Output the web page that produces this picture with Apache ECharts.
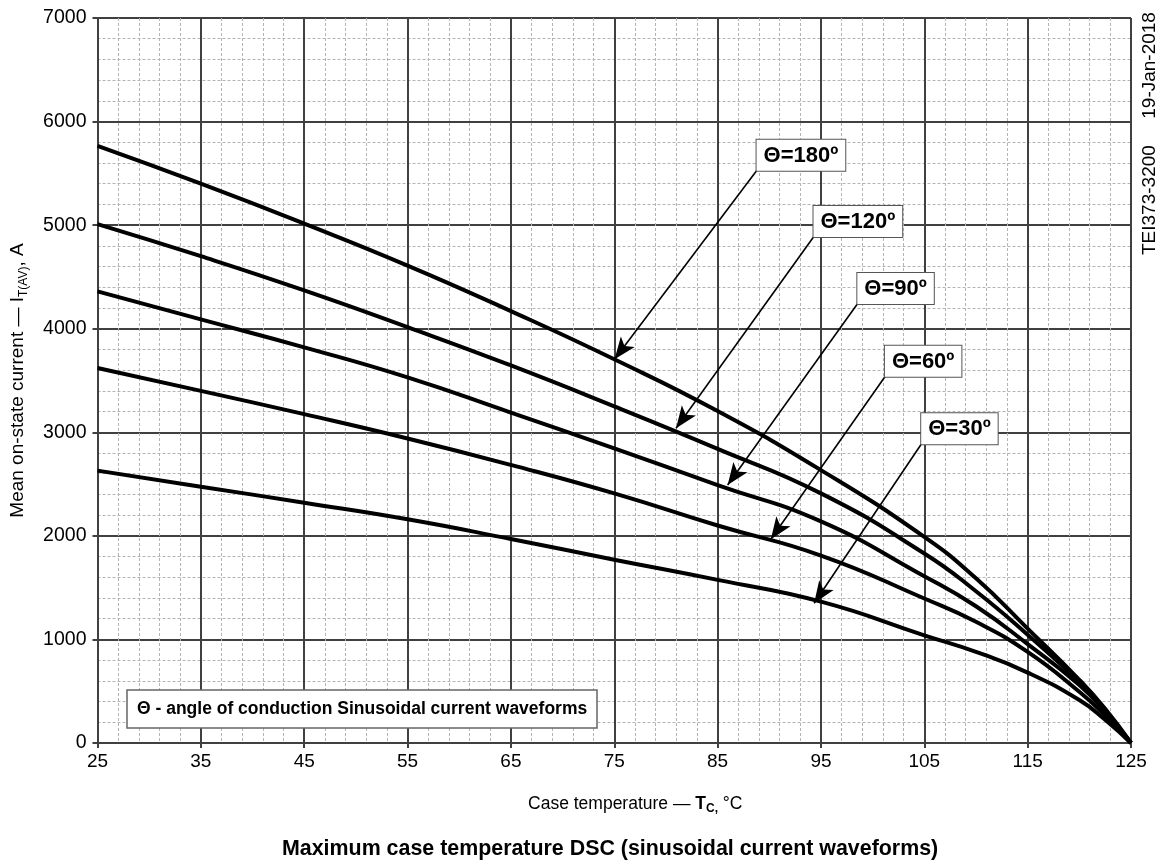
<!DOCTYPE html>
<html>
<head>
<meta charset="utf-8">
<script src="https://cdn.jsdelivr.net/npm/echarts@6/dist/echarts.min.js"></script>
<style>
html,body{margin:0;padding:0;background:#fff;}
#chart{width:1160px;height:865px;}
</style>
</head>
<body>
<div id="chart"></div>
<script>
// Case temperature, °C
var temps = [25, 35, 45, 55, 65, 75, 85, 95, 105, 110, 115, 120, 122.5, 125];
// Mean on-state current, A, per conduction angle
var cur180 = [5765, 5400, 5015, 4610, 4170, 3705, 3205, 2635, 1990, 1590, 1105, 610, 330, 0];
var cur120 = [5010, 4700, 4370, 4015, 3645, 3250, 2840, 2410, 1830, 1465, 1045, 590, 315, 0];
var cur90  = [4360, 4090, 3820, 3530, 3190, 2845, 2490, 2140, 1610, 1320, 955, 560, 300, 0];
var cur60  = [3620, 3400, 3175, 2940, 2685, 2410, 2100, 1810, 1395, 1170, 880, 495, 265, 0];
var cur30  = [2630, 2475, 2320, 2160, 1970, 1770, 1575, 1365, 1040, 880, 680, 415, 225, 0];

var seriesNames = ['Θ=180º', 'Θ=120º', 'Θ=90º', 'Θ=60º', 'Θ=30º'];
// annotation: label box bottom-left corner [T, I] and arrow tip [T, I]
var labelAnchors = [[88.77, 5526], [94.28, 4886], [98.52, 4239], [101.19, 3537], [104.70, 2884]];
var arrowTips = [[75.03, 3705], [80.98, 3039], [85.97, 2491], [90.15, 1967], [94.34, 1349]];

var xTicks = [25, 35, 45, 55, 65, 75, 85, 95, 105, 115, 125];
var yTicks = [0, 1000, 2000, 3000, 4000, 5000, 6000, 7000];

var curves = [cur180, cur120, cur90, cur60, cur30];
var FONT = '"Liberation Sans", Arial, sans-serif';

function pairs(xs, ys) { return xs.map(function (x, i) { return [x, ys[i]]; }); }

var series = curves.map(function (c, i) {
  return {
    name: seriesNames[i],
    type: 'line',
    data: pairs(temps, c),
    smooth: 0.5,
    symbol: 'none',
    lineStyle: { color: '#000', width: 4 },
    z: 5,
    markLine: {
      silent: true,
      symbol: ['none', 'arrow'],
      symbolSize: [13, 22],
      lineStyle: { color: '#000', width: 1.6, type: 'solid' },
      label: { show: false },
      animation: false,
      data: [[{ coord: labelAnchors[i] }, { coord: arrowTips[i] }]]
    },
    markPoint: {
      silent: true,
      symbol: 'rect',
      symbolSize: 0,
      animation: false,
      label: {
        show: true,
        position: 'insideBottomLeft',
        distance: 0,
        formatter: seriesNames[i],
        fontFamily: FONT,
        fontWeight: 'bold',
        fontSize: 22,
        color: '#000',
        backgroundColor: '#fff',
        borderColor: '#555',
        borderWidth: 1,
        padding: [5, 7, 4, 7]
      },
      data: [{ coord: labelAnchors[i] }]
    }
  };
});

var chart = echarts.init(document.getElementById('chart'), null, { renderer: 'canvas' });
chart.setOption({
  animation: false,
  backgroundColor: '#fff',
  grid: { left: 95, right: 29, top: 18, bottom: 122, containLabel: false },
  title: [{
    text: 'Θ - angle of conduction Sinusoidal current waveforms',
    left: 127, top: 690,
    backgroundColor: '#fff', borderColor: '#666', borderWidth: 1.5,
    padding: [10, 10, 10, 10],
    textStyle: { fontFamily: FONT, fontWeight: 'bold', fontSize: 17.5, color: '#000' }
  }, {
    text: 'Maximum case temperature DSC (sinusoidal current waveforms)',
    left: 282, top: 839, padding: 0,
    textStyle: { fontFamily: FONT, fontWeight: 'bold', fontSize: 21.4, color: '#000' }
  }],
  xAxis: {
    type: 'value', min: 25, max: 125, interval: 10,
    name: '{a|Case temperature — }{b|T}{s|C,}{a| °C}',
    nameLocation: 'middle', nameGap: 50,
    nameTextStyle: {
      padding: [0, 0, 0, 42],
      rich: {
        a: { fontFamily: FONT, fontSize: 17.5, color: '#000', lineHeight: 22, verticalAlign: 'middle' },
        b: { fontFamily: FONT, fontSize: 17.5, fontWeight: 'bold', color: '#000', lineHeight: 22, verticalAlign: 'middle' },
        s: { fontFamily: FONT, fontSize: 12, fontWeight: 'bold', color: '#000', lineHeight: 10, verticalAlign: 'bottom' }
      }
    },
    axisLine: { show: true, lineStyle: { color: '#404040', width: 2 } },
    axisTick: { show: true, length: 5, lineStyle: { color: '#404040', width: 2 } },
    minorTick: { show: true, splitNumber: 5, length: 0 },
    axisLabel: {
      fontFamily: FONT, fontSize: 19, color: '#000', margin: 9,
      customValues: xTicks,
      formatter: function (v) { return String(v); }
    },
    splitLine: { show: true, lineStyle: { color: '#404040', width: 2 } },
    minorSplitLine: { show: true, lineStyle: { color: '#b4b4b4', width: 1, type: [3, 2] } }
  },
  yAxis: {
    type: 'value', min: 0, max: 7000, interval: 1000,
    name: '{a|Mean on-state current — I}{s|T(AV)}{a|, A}',
    nameLocation: 'middle', nameGap: 68, nameRotate: 90,
    nameTextStyle: {
      rich: {
        a: { fontFamily: FONT, fontSize: 19, color: '#000', lineHeight: 24, verticalAlign: 'middle' },
        s: { fontFamily: FONT, fontSize: 12, color: '#000', lineHeight: 12, verticalAlign: 'bottom' }
      }
    },
    axisLine: { show: true, lineStyle: { color: '#404040', width: 2 } },
    axisTick: { show: true, length: 5, lineStyle: { color: '#404040', width: 2 } },
    minorTick: { show: true, splitNumber: 5, length: 0 },
    axisLabel: {
      fontFamily: FONT, fontSize: 19.5, color: '#000', margin: 11,
      customValues: yTicks,
      formatter: function (v) { return String(v); }
    },
    splitLine: { show: true, lineStyle: { color: '#404040', width: 2 } },
    minorSplitLine: { show: true, lineStyle: { color: '#b4b4b4', width: 1, type: [3, 2] } }
  },
  graphic: [{
    type: 'text',
    x: 1150, y: 255,
    rotation: Math.PI / 2,
    style: {
      text: 'TEI373-3200     19-Jan-2018',
      fontFamily: FONT, fontSize: 19, fill: '#000',
      textAlign: 'left', textVerticalAlign: 'middle'
    }
  }],
  series: series
});
</script>
</body>
</html>
